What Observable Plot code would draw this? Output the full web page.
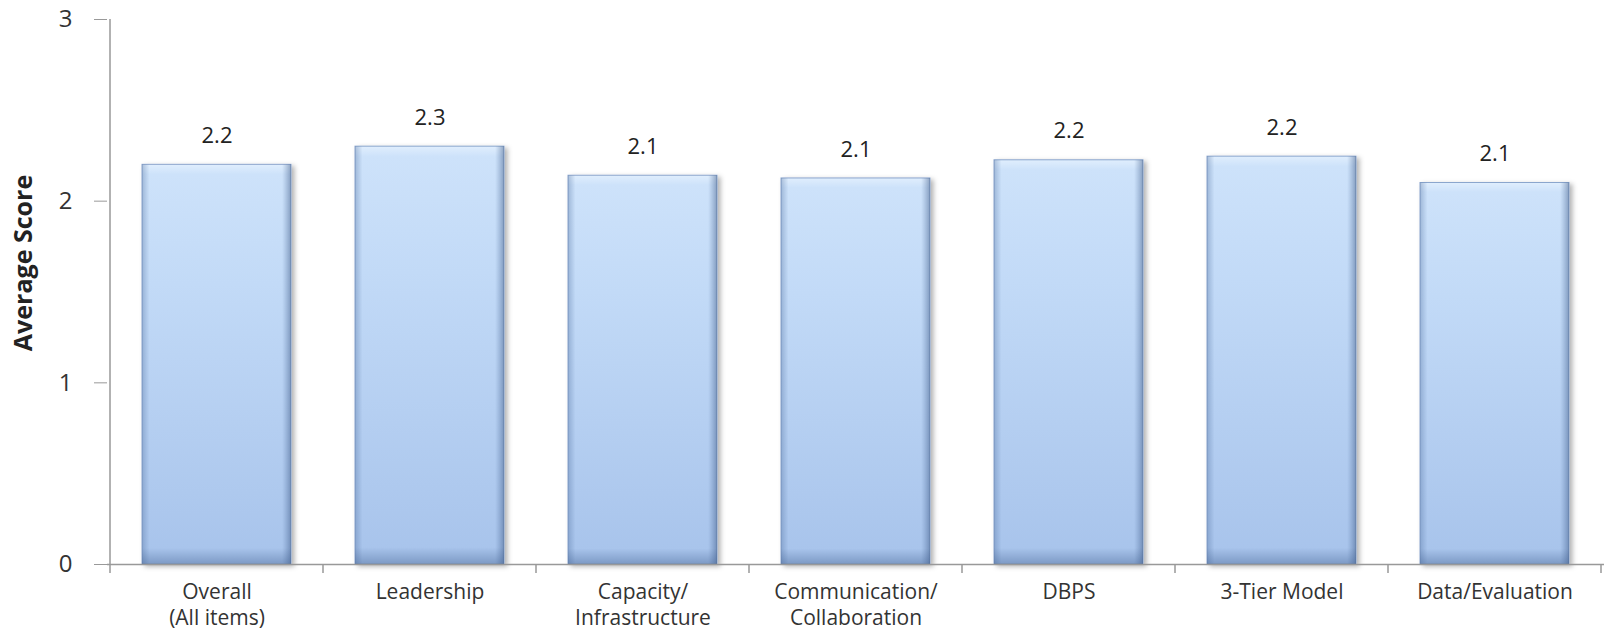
<!DOCTYPE html>
<html>
<head>
<meta charset="utf-8">
<script src="https://cdn.jsdelivr.net/npm/d3@7"></script>
<script src="https://cdn.jsdelivr.net/npm/@observablehq/plot@0.6"></script>
<style>
  html, body { margin: 0; padding: 0; background: #fff; }
  #chart svg { display: block; }
</style>
</head>
<body>
<div id="chart"></div>
<script>
const categories = ["Overall\n(All items)", "Leadership", "Capacity/\nInfrastructure", "Communication/\nCollaboration", "DBPS", "3-Tier Model", "Data/Evaluation"];
const scores = [2.20, 2.30, 2.14, 2.125, 2.225, 2.245, 2.10];
const valueLabels = ["2.2", "2.3", "2.1", "2.1", "2.2", "2.2", "2.1"];
const yTicks = [0, 1, 2, 3];
const yTitle = "Average Score";

const data = categories.map((c, i) => ({cat: c, value: scores[i], label: valueLabels[i]}));

const W = 1605, H = 634;
const plot = Plot.plot({
  width: W,
  height: H,
  marginLeft: 107,
  marginRight: 1,
  marginTop: 19,
  marginBottom: 70,
  style: {fontFamily: "'Open Sans', sans-serif", background: "#fff", color: "#333"},
  x: {domain: categories, paddingInner: 0.3, paddingOuter: 0.15, axis: null},
  y: {domain: [0, 3], axis: null},
  marks: [
    Plot.barY(data, {x: "cat", y: "value", fill: "url(#barGrad)", stroke: "#8ba6cd", strokeWidth: 1}),
    Plot.barY(data, {x: "cat", y: "value", fill: "url(#edgeGrad)"}),
    Plot.barY(data, {x: "cat", y: "value", fill: "url(#bottomGrad)"}),
    Plot.ruleY([0], {stroke: "#999", strokeWidth: 1.5}),
    Plot.axisY({ticks: yTicks, tickSize: 13, tickPadding: 22, fontSize: 24, stroke: "#999", fill: "#333", tickFormat: d3.format("d"), label: null}),
    Plot.axisX({tickSize: 0, tickPadding: 16, fontSize: 21, lineHeight: 1.25, fill: "#333", label: null}),
    Plot.text(data, {x: "cat", y: "value", text: "label", dy: -29, fontSize: 22, fill: "#222"}),
    Plot.text([yTitle], {frameAnchor: "left", textAnchor: "middle", dx: -84, dy: -29, rotate: -90, fontSize: 25, fontWeight: "bold", fill: "#222"})
  ]
});

// gradients / filters
const svg = d3.select(plot);
const defs = svg.insert("defs", ":first-child");
const g1 = defs.append("linearGradient").attr("id", "barGrad").attr("x1", 0).attr("y1", 0).attr("x2", 0).attr("y2", 1);
[[0, "#e0eefd"], [0.025, "#cde2fa"], [0.3, "#c2daf7"], [1, "#a7c3eb"]].forEach(([o, c]) => g1.append("stop").attr("offset", o).attr("stop-color", c));
const g2 = defs.append("linearGradient").attr("id", "edgeGrad").attr("x1", 0).attr("y1", 0).attr("x2", 1).attr("y2", 0);
[[0, "#4a6a9a", 0.35], [0.05, "#4a6a9a", 0], [0.94, "#4a6a9a", 0], [1, "#2e4a78", 0.45]].forEach(([o, c, a]) => g2.append("stop").attr("offset", o).attr("stop-color", c).attr("stop-opacity", a));
const g3 = defs.append("linearGradient").attr("id", "bottomGrad").attr("x1", 0).attr("y1", 0).attr("x2", 0).attr("y2", 1);
[[0, "#3d5c8c", 0], [0.96, "#3d5c8c", 0], [1, "#3d5c8c", 0.4]].forEach(([o, c, a]) => g3.append("stop").attr("offset", o).attr("stop-color", c).attr("stop-opacity", a));
const f = defs.append("filter").attr("id", "shadow").attr("x", "-10%").attr("y", "-10%").attr("width", "130%").attr("height", "130%");
f.append("feDropShadow").attr("dx", 3).attr("dy", 2).attr("stdDeviation", 2.5).attr("flood-color", "#000").attr("flood-opacity", 0.3);
const barGroups = plot.querySelectorAll('g[aria-label="bar"]');
if (barGroups.length) barGroups[0].setAttribute("filter", "url(#shadow)");

// axis lines and category boundary ticks, from the plot's scales
const sx = plot.scale("x"), sy = plot.scale("y");
const step = sx.step, bw = sx.bandwidth;
const centers = sx.domain.map(d => sx.apply(d) + bw / 2);
const bounds = [centers[0] - step / 2, ...centers.map(c => c + step / 2)];
const y0 = sy.apply(0), y3 = sy.apply(3);
const axisG = svg.append("g").attr("stroke", "#999").attr("stroke-width", 1.5);
axisG.append("line").attr("x1", bounds[0]).attr("x2", bounds[0]).attr("y1", y3).attr("y2", y0);
bounds.forEach(b => axisG.append("line").attr("x1", b).attr("x2", b).attr("y1", y0).attr("y2", y0 + 9));

document.getElementById("chart").appendChild(plot);
</script>
</body>
</html>
